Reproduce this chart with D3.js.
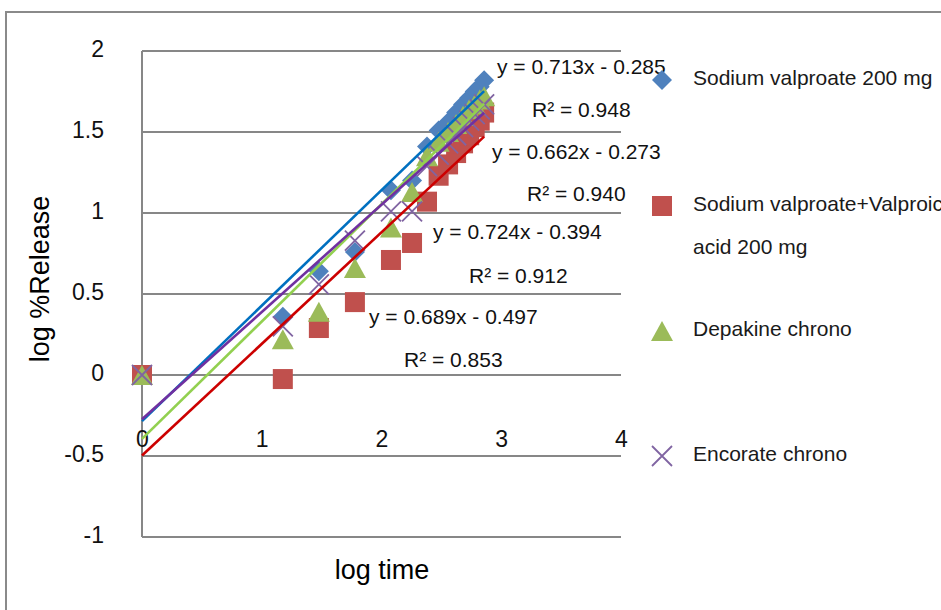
<!DOCTYPE html>
<html>
<head>
<meta charset="utf-8">
<script src="https://cdn.jsdelivr.net/npm/d3@7"></script>
<style>
  html, body { margin: 0; padding: 0; background: #fff; }
  svg { display: block; font-family: "Liberation Sans", Arial, sans-serif; }
</style>
</head>
<body>
<svg id="chart" width="941" height="610"></svg>
<script>
// log time values shared by every formulation
const logTime = [0, 1.176, 1.477, 1.778, 2.079, 2.255, 2.380, 2.477, 2.556, 2.623, 2.681, 2.732, 2.778, 2.820, 2.857];

// log %Release per formulation
const sodiumValproate = [0, 0.36, 0.64, 0.76, 1.14, 1.20, 1.41, 1.51, 1.56, 1.62, 1.67, 1.71, 1.75, 1.78, 1.82];
const svPlusValproic  = [0, -0.025, 0.29, 0.45, 0.71, 0.815, 1.07, 1.23, 1.30, 1.37, 1.43, 1.48, 1.53, 1.57, 1.62];
const depakineChrono  = [0, 0.22, 0.39, 0.66, 0.91, 1.13, 1.35, 1.44, 1.50, 1.55, 1.60, 1.64, 1.67, 1.70, 1.72];
const encorateChrono  = [0, 0.30, 0.56, 0.83, 1.01, 1.01, 1.29, 1.36, 1.43, 1.48, 1.53, 1.57, 1.61, 1.64, 1.67];

const seriesNames = ["Sodium valproate 200 mg", "Sodium valproate+Valproic acid 200 mg", "Depakine chrono", "Encorate chrono"];

// linear trendline fits (slope, intercept, R²)
const slopes     = [0.713, 0.689, 0.724, 0.662];
const intercepts = [-0.285, -0.497, -0.394, -0.273];
const rSquared   = [0.948, 0.853, 0.912, 0.940];

const xTicks = [0, 1, 2, 3, 4];
const yTicks = [-1, -0.5, 0, 0.5, 1, 1.5, 2];

const seriesValues = [sodiumValproate, svPlusValproic, depakineChrono, encorateChrono];
const markerColors = ["#4F81BD", "#C0504D", "#9BBB59", "#8064A2"];
const lineColors   = ["#0070C0", "#CC0000", "#92D050", "#7030A0"];
const markerShapes = ["diamond", "square", "triangle", "cross"];

const svg = d3.select("#chart");
const x = d3.scaleLinear().domain([0, 4]).range([142, 621]);
const y = d3.scaleLinear().domain([-1, 2]).range([537, 51]);
const grey = "#878787";

// chart area border (top and left edges in view)
svg.append("path")
  .attr("d", "M6,610 L6,12 L941,12")
  .attr("fill", "none").attr("stroke", "#8a8a8a").attr("stroke-width", 2);

// horizontal gridlines
svg.append("g").selectAll("line").data(yTicks).join("line")
  .attr("x1", x(0)).attr("x2", x(4))
  .attr("y1", d => y(d)).attr("y2", d => y(d))
  .attr("stroke", grey).attr("stroke-width", 2);

// vertical axis line
svg.append("line")
  .attr("x1", x(0)).attr("x2", x(0)).attr("y1", y(2)).attr("y2", y(-1))
  .attr("stroke", grey).attr("stroke-width", 2);

// y tick labels
const yAxis = d3.axisLeft(y).tickValues(yTicks).tickSize(0).tickPadding(0)
  .tickFormat(d => String(d));
const gy = svg.append("g").attr("transform", "translate(104,0)").call(yAxis);
gy.select(".domain").remove();
gy.selectAll("text").attr("font-size", 23).attr("fill", "#111")
  .attr("font-family", "Liberation Sans, Arial, sans-serif")
  .attr("dy", "0.26em");

// x tick labels, sitting below the zero line
const xAxis = d3.axisBottom(x).tickValues(xTicks).tickSize(0).tickPadding(0)
  .tickFormat(d => String(d));
const gx = svg.append("g").attr("transform", "translate(0,439)").call(xAxis);
gx.select(".domain").remove();
gx.selectAll("text").attr("font-size", 23).attr("fill", "#111")
  .attr("font-family", "Liberation Sans, Arial, sans-serif")
  .attr("dy", "0.35em");

// axis titles
svg.append("text").attr("x", 382).attr("y", 570).attr("dy", "0.35em")
  .attr("text-anchor", "middle").attr("font-size", 27).attr("fill", "#000")
  .text("log time");
svg.append("text").attr("transform", "translate(40,279) rotate(-90)")
  .attr("dy", "0.35em").attr("text-anchor", "middle")
  .attr("font-size", 27).attr("fill", "#000")
  .text("log %Release");

// marker drawing
function drawMarker(g, shape, color) {
  const s = 10;
  if (shape === "diamond") {
    g.append("path").attr("d", `M0,${-s} L${s},0 L0,${s} L${-s},0 Z`).attr("fill", color);
  } else if (shape === "square") {
    g.append("rect").attr("x", -s).attr("y", -s).attr("width", 2 * s).attr("height", 2 * s).attr("fill", color);
  } else if (shape === "triangle") {
    g.append("path").attr("d", `M0,${-s} L${s + 1},${s} L${-s - 1},${s} Z`).attr("fill", color);
  } else {
    g.append("path").attr("d", `M${-s},${-s} L${s},${s} M${s},${-s} L${-s},${s}`)
      .attr("stroke", color).attr("stroke-width", 1.8).attr("fill", "none");
  }
}

// data points
seriesValues.forEach((vals, i) => {
  const g = svg.append("g");
  vals.forEach((v, j) => {
    const m = g.append("g").attr("transform", `translate(${x(logTime[j])},${y(v)})`);
    drawMarker(m, markerShapes[i], markerColors[i]);
  });
});

// trendlines across the measured range
const xMax = d3.max(logTime);
slopes.forEach((m, i) => {
  const pts = [0, xMax].map(t => [x(t), y(m * t + intercepts[i])]);
  svg.append("path").attr("d", d3.line()(pts))
    .attr("stroke", lineColors[i]).attr("stroke-width", 2.6).attr("fill", "none");
});

// trendline equation labels
const eqPos = [
  { eq: [497, 67],  r2: [532, 110] },
  { eq: [369, 317], r2: [404, 360] },
  { eq: [433, 232], r2: [469, 276] },
  { eq: [492, 152], r2: [527, 194] }
];
const fmt3 = d3.format(".3f");
slopes.forEach((m, i) => {
  const sign = intercepts[i] < 0 ? "-" : "+";
  svg.append("text").attr("x", eqPos[i].eq[0]).attr("y", eqPos[i].eq[1]).attr("dy", "0.35em")
    .attr("font-size", 21).attr("fill", "#111")
    .text(`y = ${fmt3(m)}x ${sign} ${fmt3(Math.abs(intercepts[i]))}`);
  svg.append("text").attr("x", eqPos[i].r2[0]).attr("y", eqPos[i].r2[1]).attr("dy", "0.35em")
    .attr("font-size", 21).attr("fill", "#111")
    .text(`R² = ${fmt3(rSquared[i])}`);
});

// legend
const legendRows = [
  { y: 79,  lines: ["Sodium valproate 200 mg"] },
  { y: 205, lines: ["Sodium valproate+Valproic", "acid 200 mg"] },
  { y: 330, lines: ["Depakine chrono"] },
  { y: 455, lines: ["Encorate chrono"] }
];
legendRows.forEach((row, i) => {
  const m = svg.append("g").attr("transform", `translate(662,${row.y + 1})`);
  drawMarker(m, markerShapes[i], markerColors[i]);
  row.lines.forEach((ln, k) => {
    svg.append("text").attr("x", 693).attr("y", row.y - 1 + k * 43).attr("dy", "0.35em")
      .attr("font-size", 21).attr("fill", "#1a1a1a").text(ln);
  });
});
</script>
</body>
</html>
